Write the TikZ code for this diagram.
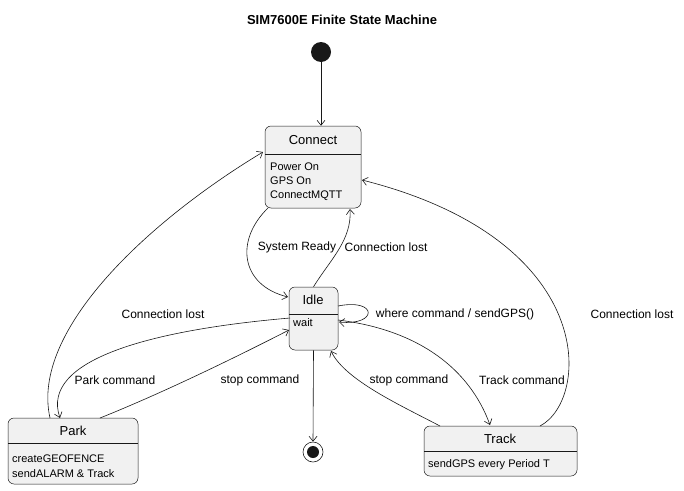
\documentclass[tikz,border=0pt]{standalone}
\usepackage{fontspec}
\setmainfont{Liberation Sans}
\usetikzlibrary{arrows.meta}
\definecolor{stfill}{HTML}{F1F1F1}
\definecolor{stline}{HTML}{181818}
\tikzset{
  state/.style={draw=stline, fill=stfill, rounded corners=6pt, line width=0.5pt, inner sep=0pt},
  sep/.style={draw=stline, line width=0.4pt},
  stname/.style={font=\fontsize{13}{13}\selectfont},
  body/.style={anchor=west, font=\fontsize{11}{11}\selectfont, inner sep=0pt},
  lbl/.style={font=\fontsize{12}{12}\selectfont, inner sep=0pt},
  tr/.style={draw=stline, line width=0.6pt, -{Straight Barb[length=5pt,width=8pt]}}
}
\begin{document}
\begin{tikzpicture}[x=1pt,y=-1pt]
\useasboundingbox (0,0) rectangle (684,490);
\node[font=\bfseries\fontsize{13}{13}\selectfont] (title) at (342,20) {SIM7600E Finite State Machine};

% states
\node[state, minimum width=96pt, minimum height=82pt] (connect) at (313,167) {};
\draw[sep] (265,154) -- (361,154);
\node[stname] (connectn) at (313,140) {Connect};
\node[body] (b1) at (270,167) {Power On};
\node[body] (b2) at (270,181) {GPS On};
\node[body] (b3) at (270,196) {ConnectMQTT};

\node[state, minimum width=49pt, minimum height=63pt] (idle) at (313.5,318.5) {};
\draw[sep] (289,314) -- (338,314);
\node[stname] (idlen) at (313,300) {Idle};
\node[body] (b4) at (293,323) {wait};

\node[state, minimum width=130pt, minimum height=66pt] (park) at (73,451) {};
\draw[sep] (8,443) -- (138,443);
\node[stname] (parkn) at (73,431) {Park};
\node[body] (b5) at (12,459) {createGEOFENCE};
\node[body] (b6) at (12,474) {sendALARM \& Track};

\node[state, minimum width=153pt, minimum height=50pt] (track) at (500.5,451) {};
\draw[sep] (424,451) -- (577,451);
\node[stname] (trackn) at (500,439) {Track};
\node[body] (b7) at (428,465) {sendGPS every Period T};

% pseudo states
\node[circle, fill=stline, minimum size=20pt, inner sep=0pt] (init) at (321,52) {};
\node[circle, draw=stline, line width=0.6pt, minimum size=20pt, inner sep=0pt] (final) at (313,452) {};
\fill[stline] (final) circle (6pt);

% transitions
\draw[tr] (init.south) -- (connect.north -| init.south);
\draw[tr] (268,208) .. controls (235,240) and (240,285) .. (288,297);
\draw[tr] (idle.north) .. controls (330,260) and (352,240) .. (350,209);
\draw[tr] (338,306) .. controls (378,298) and (378,326) .. (339,322);
\draw[tr] (290,318) .. controls (150,330) and (40,360) .. (60,418);
\draw[tr] (100,418) .. controls (170,390) and (250,350) .. (289,330);
\draw[tr] (50,418) .. controls (30,330) and (150,220) .. (263,152);
\draw[tr] (338,320) .. controls (420,330) and (470,370) .. (490,425);
\draw[tr] (440,426) .. controls (400,405) and (345,380) .. (331,351);
\draw[tr] (540,426) .. controls (590,400) and (600,240) .. (362,180);
\draw[tr] (idle.south) -- (final.north);

% labels
\node[lbl] (l1) at (297,247) {System Ready};
\node[lbl] (l2) at (386,247) {Connection lost};
\node[lbl] (l3) at (455,314) {where command / sendGPS()};
\node[lbl] (l4) at (115,380) {Park command};
\node[lbl] (l5) at (260,380) {stop command};
\node[lbl] (l6) at (163,314) {Connection lost};
\node[lbl] (l7) at (522,380) {Track command};
\node[lbl] (l8) at (409,380) {stop command};
\node[lbl] (l9) at (632,314) {Connection lost};
\end{tikzpicture}
\end{document}
